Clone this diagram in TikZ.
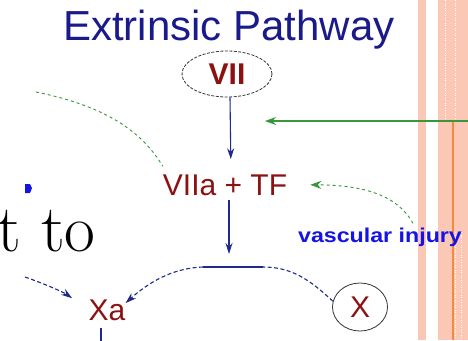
\documentclass[tikz,border=0pt]{standalone}
\usepackage{fontspec}
\newfontfamily\arialfont{Liberation Sans}
\usetikzlibrary{arrows.meta,shapes.geometric}
\begin{document}
\begin{tikzpicture}[x=1pt,y=-1pt, every node/.style={font=\arialfont, inner sep=0pt},
    factor/.style={text=pwRed, font=\arialfont\fontsize{30}{30}\selectfont},
    flow/.style={pwNavy, line width=1.1pt, -{Stealth[length=11pt,width=7pt]}},
    flowdash/.style={pwNavy, line width=1.1pt, dash pattern=on 4pt off 2.5pt},
    cue/.style={pwGreen, line width=0.9pt, dash pattern=on 3pt off 3pt},
    cuearrow/.style={cue, -{Stealth[length=11pt,width=8pt]}}]
  \definecolor{pwNavy}{HTML}{1F2A8C}
  \definecolor{pwTitle}{HTML}{1A1A8A}
  \definecolor{pwRed}{HTML}{8C1212}
  \definecolor{pwGreen}{HTML}{3A963A}
  \definecolor{pwBlue}{HTML}{1414E6}
  \definecolor{pwPeach}{HTML}{FAC8B4}
  \definecolor{pwOrange}{HTML}{F58A3C}
  \useasboundingbox[fill=white] (0,0) rectangle (468,340);
  \fill[pwPeach] (418,0) rectangle (426,340);
  \fill[pwPeach] (438,0) rectangle (468,340);
  \draw[pwOrange, line width=1.2pt] (453,120) -- (453,340);
  \foreach \sx/\sa/\sb in {445/0/120, 455/0/120, 455/232/340, 461/232/340}{
    \draw[white, line width=1pt, dash pattern=on 1pt off 1.5pt] (\sx,\sa) -- (\sx,\sb);
  }
  \node[anchor=base, text=pwTitle, font=\arialfont\fontsize{42}{42}\selectfont] (title) at (229,40) {Extrinsic Pathway};
  \node[factor, ellipse, draw=black!80, dash pattern=on 3pt off 1.5pt, line width=0.8pt, minimum width=90pt, minimum height=46pt, font=\arialfont\bfseries\fontsize{30}{30}\selectfont] (vii) at (227,74) {VII};
  \node[factor, anchor=base] (viia) at (225,195) {VIIa + TF};
  \node[factor, anchor=base] (xa) at (107,320) {Xa};
  \node[factor, ellipse, draw=black!80, line width=0.8pt, minimum width=55pt, minimum height=48pt] (x) at (360,307) {X};
  \node[anchor=base, text=pwBlue, font=\arialfont\bfseries\fontsize{20}{20}\selectfont] (injury) at (380,242) {\scalebox{1.16}[1]{vascular injury}};
  \node[anchor=base west, font=\rmfamily\fontsize{67}{67}\selectfont] (tto) at (-3,251) {t to};
  \coordinate (fork) at (229,254);
  \coordinate (arcR) at (263,267);
  \coordinate (arcL) at (203,267);
  \coordinate (gIn) at (468,121);
  \coordinate (gTip) at (265,121);
  \coordinate (gLeft) at (36,92);
  \coordinate (bLeft) at (25,277);
  \coordinate (xaOut) at (101,341);
  \draw[flow, shorten >=15pt] ([xshift=3pt]vii.south) -- ([xshift=6pt]viia.north);
  \draw[flow, shorten <=5pt] (viia.south -| fork) -- (fork);
  \draw[pwGreen, line width=1.3pt, -{Stealth[length=11pt,width=8pt]}] (gIn) -- (gTip);
  \draw[cue] (gLeft) .. controls (100,105) and (140,128) .. ([yshift=8pt]viia.north west);
  \draw[cuearrow] ([xshift=33pt,yshift=4pt]injury.north) .. controls (398,196) and (365,185) .. ([xshift=23pt]viia.east);
  \draw[flowdash] (x.168) .. controls (310,280) and (292,267) .. (arcR);
  \draw[pwNavy, line width=1.1pt] (arcR) -- (arcL);
  \draw[flowdash, -{Stealth[length=11pt,width=7pt]}] (arcL) .. controls (172,268) and (148,283) .. (xa.20);
  \draw[flowdash, -{Stealth[length=11pt,width=7pt]}, shorten >=20pt] (bLeft) to[bend left=8] (xa.west);
  \draw[pwNavy, line width=1.1pt, shorten <=8pt] (xa.south -| xaOut) -- (xaOut);
  \fill[pwBlue] (25,184) -- (30,184) -- (32,188) -- (30,193) -- (25,193) -- cycle;
\end{tikzpicture}
\end{document}
